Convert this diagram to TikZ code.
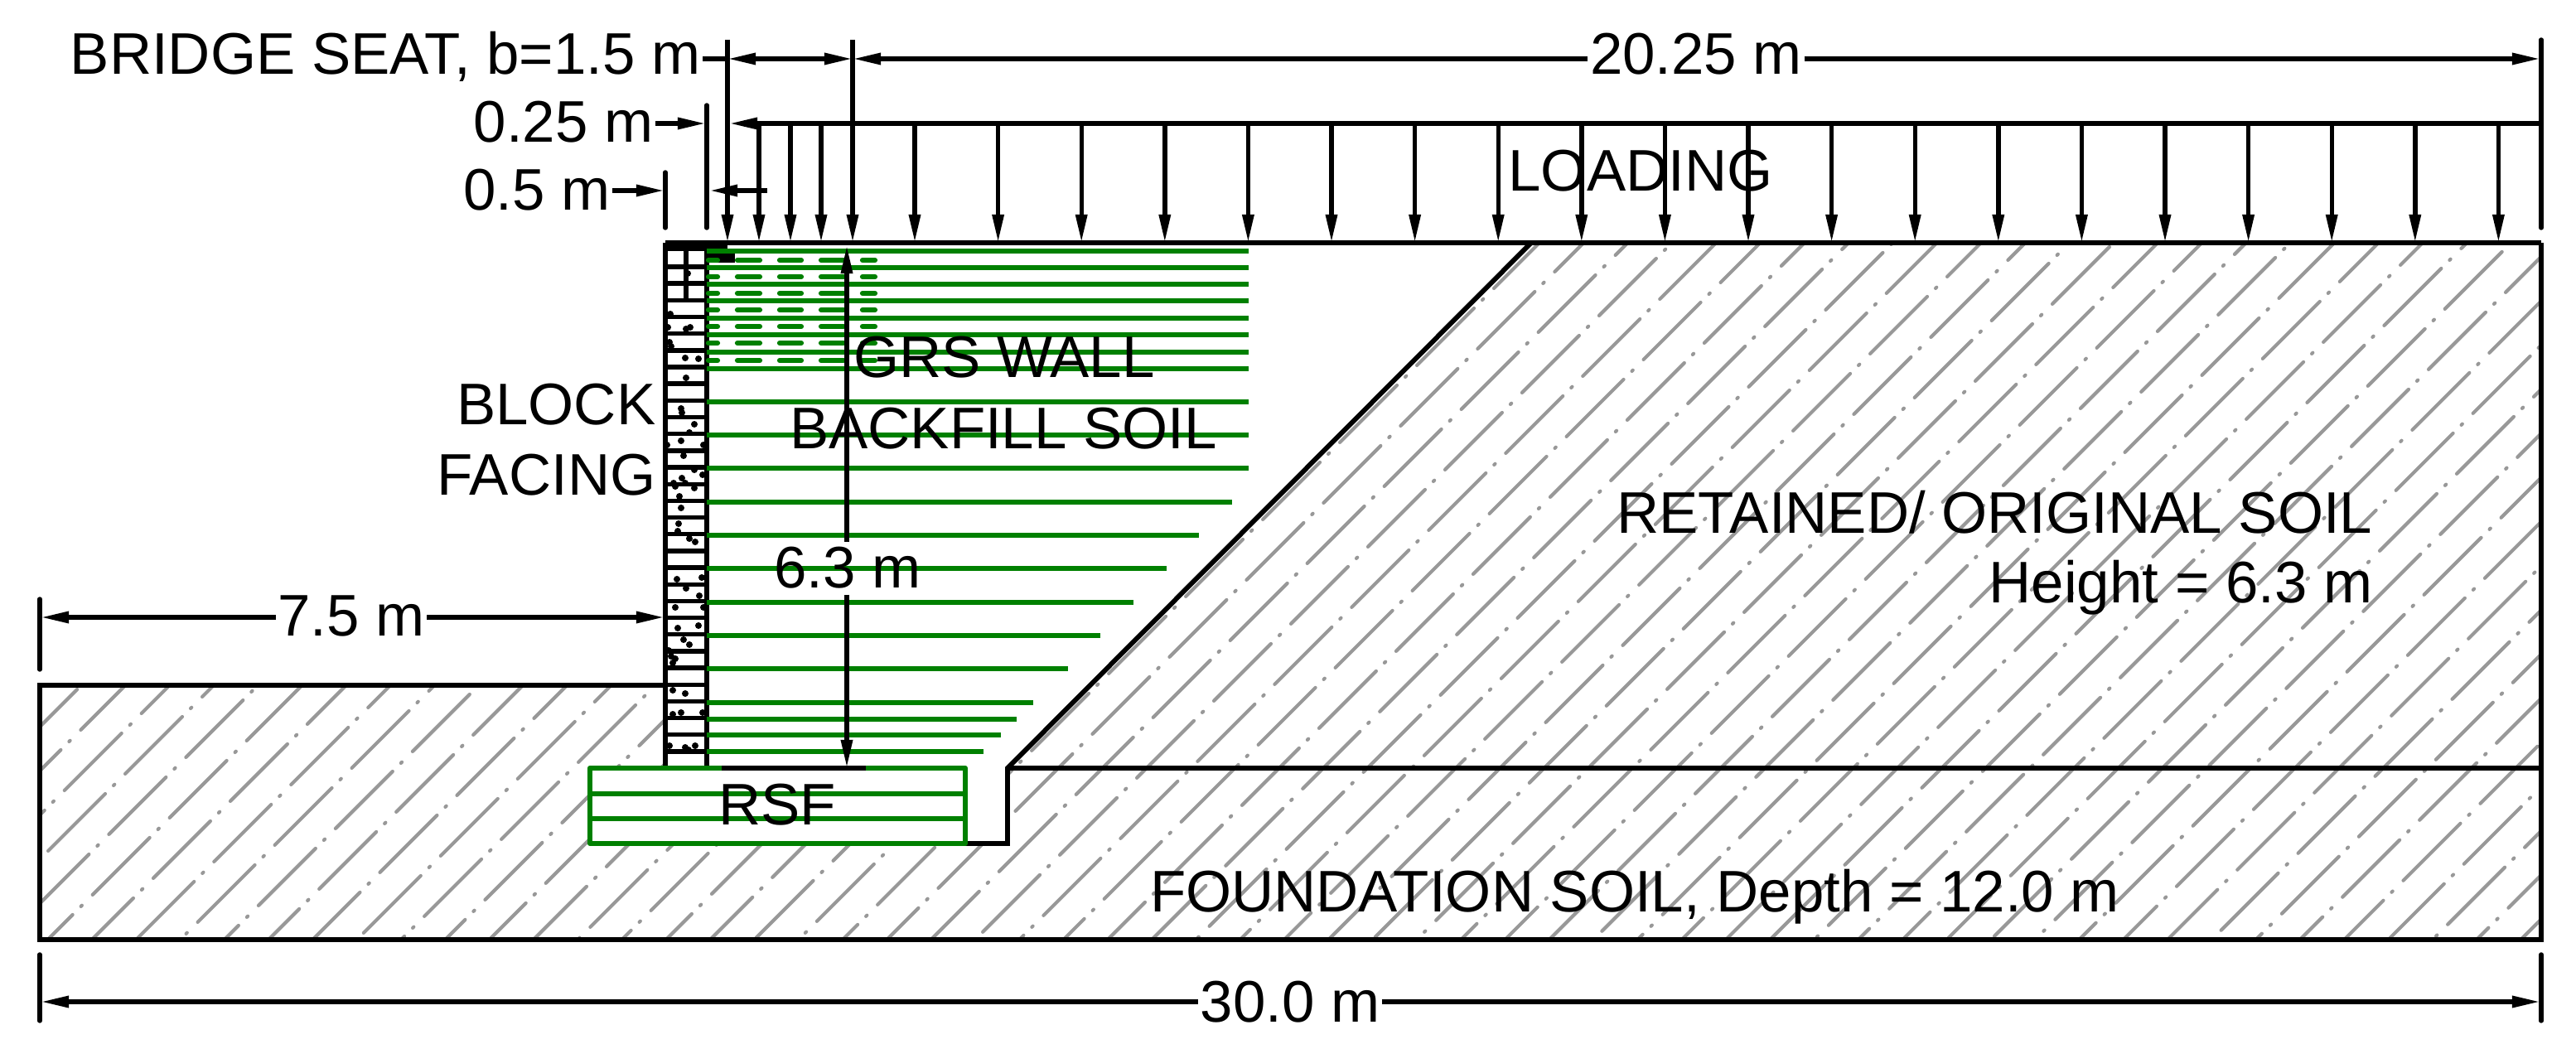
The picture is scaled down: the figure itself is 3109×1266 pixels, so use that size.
\documentclass[tikz,border=0pt]{standalone}
\usepackage{fontspec}
\setmainfont{Liberation Sans}
\usetikzlibrary{arrows.meta}
\definecolor{reinfgreen}{RGB}{0,128,0}
\definecolor{hatchgray}{RGB}{152,152,152}

\begin{document}
\begin{tikzpicture}[x=0.24pt,y=-0.24pt,>={Stealth[length=8.2pt,width=3.2pt,inset=0pt]},
		line width=1.3pt,
		every node/.style={font=\fontsize{17}{20}\selectfont,inner sep=0pt},
		dimlabel/.style={anchor=base,inner xsep=0pt,inner ysep=1pt},
		extline/.style={line cap=round},
		reinf/.style={reinfgreen,line width=1.3pt},
		reinfdash/.style={reinfgreen,line width=1.5pt,line cap=round},
		soilline/.style={line width=1.25pt},
		soilhatch/.style={hatchgray,line width=1pt,line cap=round,dash pattern=on 23.4pt off 3.4pt on 0.4pt off 4.36pt}]
	\useasboundingbox (0,0) rectangle (3109,1266);
	
	% soil hatching
	\begin{scope}
		\clip (1848,293) -- (3067,293) -- (3067,927) -- (1216,927) -- cycle
		(48,827) -- (803,827) -- (803,927) -- (712,927) -- (712,1018) -- (1216,1018)
		-- (1216,927) -- (3067,927) -- (3067,1134) -- (48,1134) -- cycle;
		\foreach \n in {-25,...,38}
		\draw[soilhatch] ({73.3*\n-76.3},{2280.6-20*\n}) -- ++(3720,-3720);
	\end{scope}
	
	% soil outline
	\coordinate (GL) at (48,827);
	\coordinate (GF) at (803,827);
	\coordinate (BL) at (48,1134);
	\coordinate (BR) at (3067,1134);
	\coordinate (TR) at (3067,293);
	\coordinate (TF) at (803,293);
	\coordinate (SlopeT) at (1848,293);
	\coordinate (SlopeB) at (1216,927);
	\coordinate (StepB) at (1216,1018);
	\coordinate (RsfBR) at (1165,1018);
	\coordinate (FoundR) at (3067,927);
	\draw[soilline] (GF) -- (GL) -- (BL) -- (BR) -- (TR);
	\draw[soilline] (SlopeB) -- (FoundR);
	\draw (TF) -- (TR);
	\draw[line width=1.4pt] (SlopeT) -- (SlopeB) -- (StepB) -- (RsfBR);
	
	% block facing
	\coordinate (FaceA) at (803,293);
	\coordinate (FaceB) at (803,927);
	\coordinate (FaceC) at (853,293);
	\coordinate (FaceD) at (853,927);
	\draw (FaceA) -- (FaceB);
	\draw (FaceC) -- (FaceD);
	\foreach \k in {0,...,29}
	\draw (803,{322+20.17*\k}) -- (853,{322+20.17*\k});
	\draw (828,303) -- (828,364);
	\foreach \x/\y in {828/322,830/330,809/379,806/395,828/397,833/395,808/413,810/418,827/432,843/433,
		828/456,822/493,823/498,838/512,832/522,822/532,805/537,849/537,825/550,838/567,848/573,
		823/577,813/583,815/587,827/583,838/589,820/599,822/613,819/632,818/641,832/650,839/654,
		817/699,847/697,828/710,844/719,815/733,849/733,818/758,843/755,825/772,832/778,807/785,
		810/792,815/795,812/800,812/833,827/837,812/862,822/860,848/860,808/900,827/902,839/900,831/905}
	\fill (\x,\y) circle (4);
	\fill (803,291) rectangle (878,303);
	\fill (853,303) rectangle (887,317);
	
	% backfill reinforcement
	\foreach \y in {303,323,343,363,384,404,425,445,485,525,565}
	\draw[reinf] (853,\y) -- (1507,\y);
	\foreach \y/\xend in {606/1487,646/1447,686/1408,727/1368,767/1328,807/1289,848/1247,868/1227,887/1208,907/1187}
	\draw[reinf] (853,\y) -- (\xend,\y);
	\foreach \y in {314,334,354,374,394,414,435}
	\foreach \xa/\xb in {855/866,890/917,941/967,991/1018,1041/1056}
	\draw[reinfdash] (\xa,\y) -- (\xb,\y);
	
	% RSF
	\coordinate (RsfTL) at (712,927);
	\coordinate (RsfBRc) at (1165,1018);
	\draw[reinfgreen,line width=1.5pt,line join=round] (RsfTL) rectangle (RsfBRc);
	\draw[reinf] (712,958) -- (1165,958);
	\draw[reinf] (712,988) -- (1165,988);
	\coordinate (BaseL) at (871,927);
	\coordinate (BaseR) at (1045,927);
	\draw[line width=1.5pt] (BaseL) -- (BaseR);
	
	% loading
	\coordinate (LoadL) at (880,149);
	\coordinate (LoadR) at (3067,149);
	\draw[->] (LoadR) -- (LoadL);
	\draw[->] (878,48) -- (878,293);
	\draw[->] (1029,48) -- (1029,293);
	\foreach \x in {916,954,991}
	\draw[->] (\x,149) -- (\x,293);
	\foreach \k in {0,...,19}
	\draw[->] ({1104+100.6*\k},149) -- ({1104+100.6*\k},293);
	
	% labels
	\node[anchor=base east] (seat) at (848,90) {BRIDGE SEAT, b=1.5 m};
	\node[anchor=base east] (lab25) at (791,172) {0.25 m};
	\node[anchor=base east] (lab05) at (739,254) {0.5 m};
	\node[dimlabel] (lab2025) at (2047,90) {20.25 m};
	\node[anchor=base] (load) at (1980,231) {LOADING};
	\node[anchor=base] (grs) at (1212,456) {GRS WALL};
	\node[anchor=base] (backfill) at (1211,541) {BACKFILL SOIL};
	\node[anchor=base east] (block) at (794,513) {BLOCK};
	\node[anchor=base east] (facing) at (794,598) {FACING};
	\node[dimlabel] (lab63) at (1023,710) {6.3 m};
	\node[anchor=base] (rsf) at (938,995) {RSF};
	\node[anchor=base east] (retained) at (2866,644) {RETAINED/ ORIGINAL SOIL};
	\node[anchor=base east] (height) at (2866,728) {Height = 6.3 m};
	\node[anchor=base] (found) at (1973,1100) {FOUNDATION SOIL, Depth = 12.0 m};
	\node[dimlabel] (lab75) at (424,767) {7.5 m};
	\node[dimlabel] (lab30) at (1557,1233) {30.0 m};
	
	% dimensions
	\coordinate (ExtRT) at (3067,48);
	\coordinate (ExtRB) at (3067,275);
	\draw[extline] (ExtRT) -- (ExtRB);
	\coordinate (DimA) at (878,71);
	\coordinate (DimB) at (1029,71);
	\coordinate (DimC) at (3066,71);
	\draw (seat.east |- DimA) -- (DimA);
	\draw[<->] (DimA) -- (DimB);
	\draw[<-] (DimB) -- (DimB -| lab2025.west);
	\draw[->] (DimC -| lab2025.east) -- (DimC);
	
	\coordinate (Ext25T) at (853,127);
	\coordinate (Ext25B) at (853,275);
	\coordinate (Ext05T) at (803,208);
	\coordinate (Ext05B) at (803,275);
	\draw[extline] (Ext25T) -- (Ext25B);
	\draw[extline] (Ext05T) -- (Ext05B);
	\coordinate (Tip25) at (852,149);
	\coordinate (Tip05) at (802,230);
	\coordinate (Tip05R) at (856,230);
	\coordinate (End05R) at (926,230);
	\draw[->] (lab25.east |- Tip25) -- (Tip25);
	\draw[->] (lab05.east |- Tip05) -- (Tip05);
	\draw[->] (End05R) -- (Tip05R);
	
	\coordinate (Arr63T) at (1022,296);
	\coordinate (Arr63B) at (1022,927);
	\draw[<-] (Arr63T) -- (Arr63T |- lab63.north);
	\draw[->] (Arr63B |- lab63.south) -- (Arr63B);
	
	\coordinate (Ext75T) at (48,723);
	\coordinate (Ext75B) at (48,808);
	\coordinate (Dim75L) at (49,745);
	\coordinate (Dim75R) at (802,745);
	\draw[extline] (Ext75T) -- (Ext75B);
	\draw[<-] (Dim75L) -- (Dim75L -| lab75.west);
	\draw[->] (Dim75R -| lab75.east) -- (Dim75R);
	
	\coordinate (Ext30LT) at (48,1152);
	\coordinate (Ext30LB) at (48,1232);
	\coordinate (Ext30RT) at (3067,1152);
	\coordinate (Ext30RB) at (3067,1232);
	\coordinate (Dim30L) at (49,1209);
	\coordinate (Dim30R) at (3066,1209);
	\draw[extline] (Ext30LT) -- (Ext30LB);
	\draw[extline] (Ext30RT) -- (Ext30RB);
	\draw[<-] (Dim30L) -- (Dim30L -| lab30.west);
	\draw[->] (Dim30R -| lab30.east) -- (Dim30R);
\end{tikzpicture}
\end{document}
